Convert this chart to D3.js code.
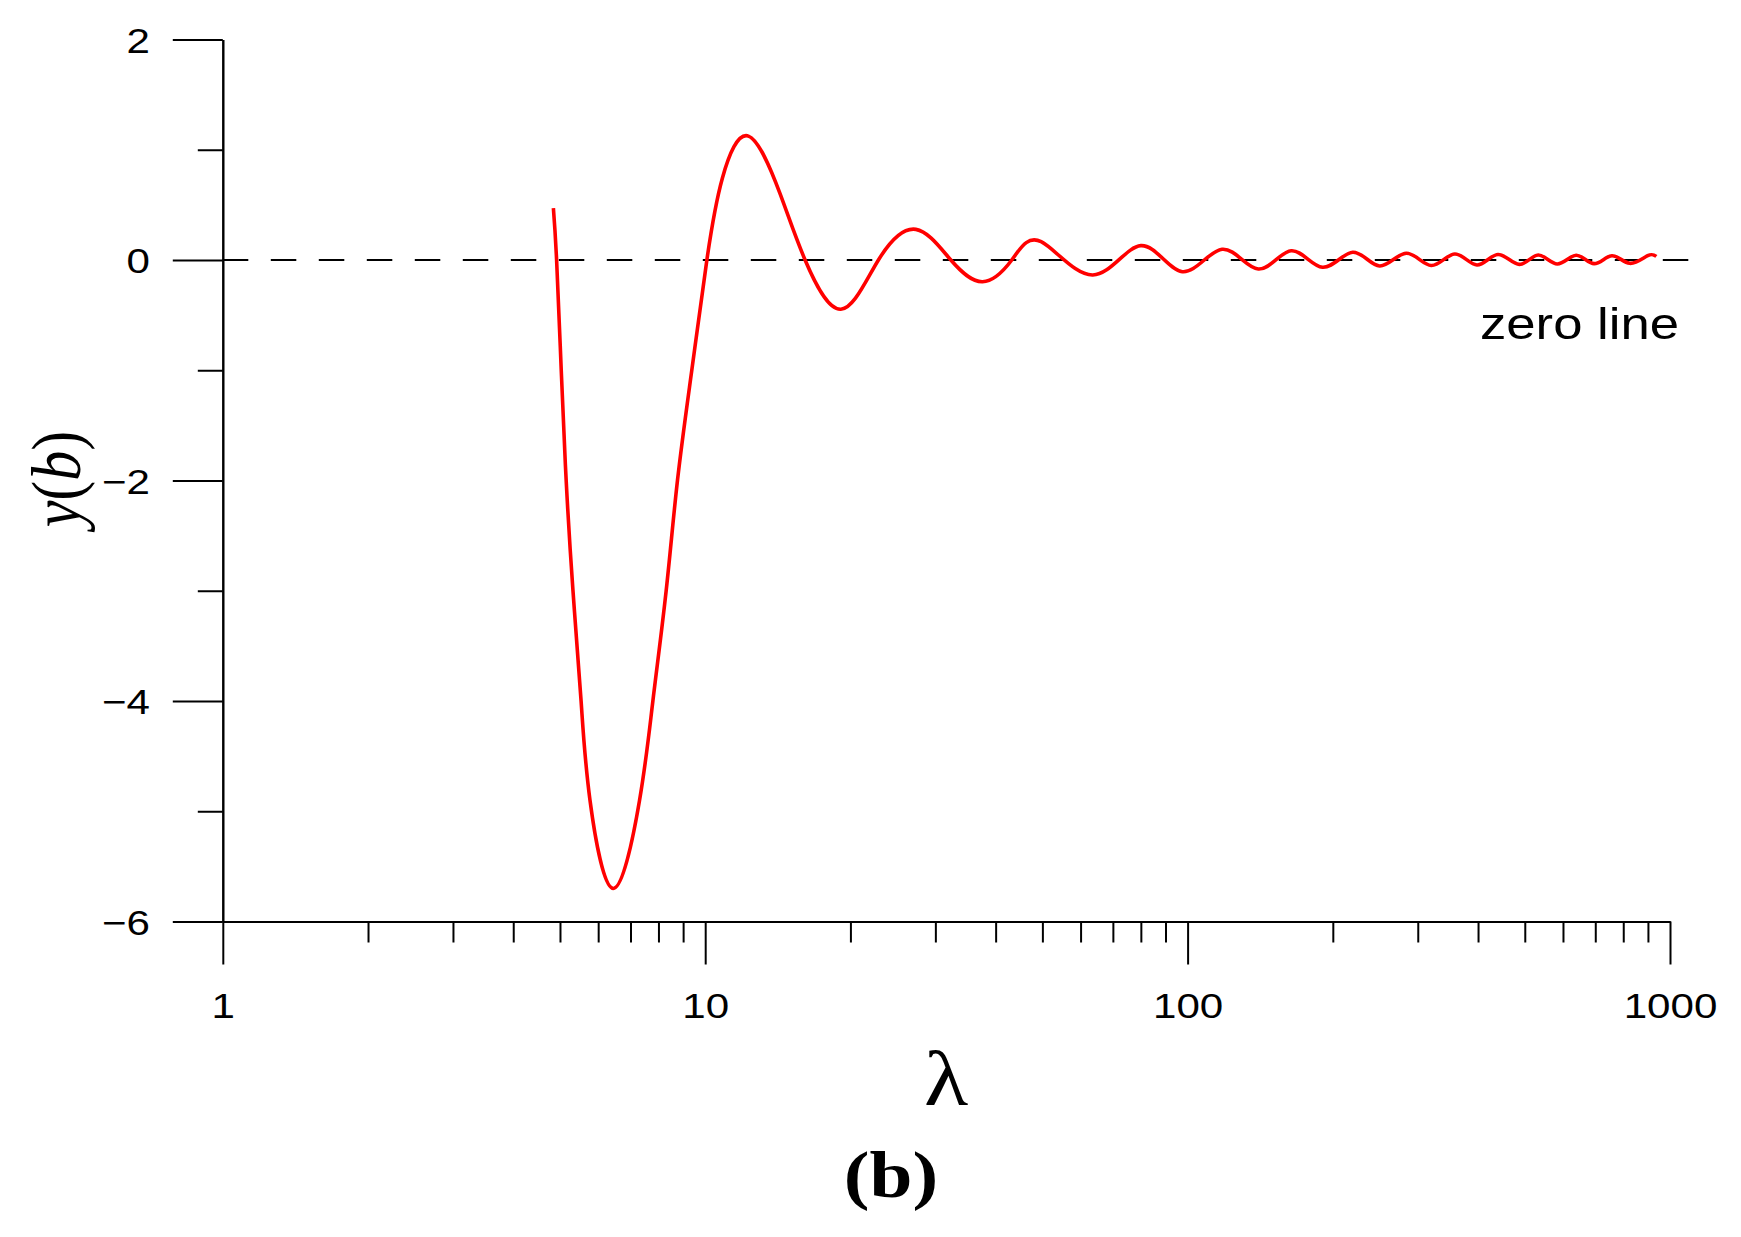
<!DOCTYPE html>
<html>
<head>
<meta charset="utf-8">
<script src="https://cdn.jsdelivr.net/npm/d3@7"></script>
<style>
  html, body { margin: 0; padding: 0; background: #fff; }
  svg { display: block; }
</style>
</head>
<body>
<svg id="chart"></svg>
<script>
// values
const lambda = [4.845, 4.92, 5.03, 5.15, 5.32, 5.53, 5.77, 6.45, 7.31, 7.79, 8.3, 8.76, 9.38,
  10.08, 10.85, 12.29, 14.3, 16.11, 19.11, 22.86, 27.33, 32.3, 37.57, 43.2, 49.7, 63.6, 80, 97.5,
  117.9, 140.1, 164, 190.4, 220, 250, 284, 320, 358, 398, 440, 487, 533, 584, 639, 696, 758, 825, 899, 937];
const yb = [0.47, 0, -1, -2, -3, -4, -4.9, -5.7, -4.9, -4, -3, -2, -1,
  0, 0.74, 1.124, 0.6, 0, -0.447, 0, 0.278, 0, -0.197, 0, 0.166, -0.136, 0.13, -0.106,
  0.097, -0.082, 0.084, -0.066, 0.07, -0.054, 0.061, -0.05, 0.054, -0.045, 0.05, -0.04, 0.045, -0.036, 0.043, -0.033, 0.039, -0.03, 0.039, 0.033];

const xMajor = [1, 10, 100, 1000];
const xMinor = [2, 3, 4, 5, 6, 7, 8, 9, 20, 30, 40, 50, 60, 70, 80, 90, 200, 300, 400, 500, 600, 700, 800, 900];
const yMajor = [-6, -4, -2, 0, 2];
const yMinor = [-5, -3, -1, 1];

const width = 1741;
const height = 1237;
const stretch = 1.17; // text in the picture is a bit wider than tall

const svg = d3.select("#chart").attr("width", width).attr("height", height);
svg.append("rect").attr("width", width).attr("height", height).attr("fill", "#fff");

const x = d3.scaleLog().domain([1, 1000]).range([222.8, 1670]);
const y = d3.scaleLinear().domain([-6, 2]).range([921.5, 39.5]);

const tickFont = "'Liberation Sans', Arial, sans-serif";

// y axis: major ticks with labels, then minor
const yAxisMajor = svg.append("g")
  .attr("transform", `translate(${x(1)},0)`)
  .call(d3.axisLeft(y).tickValues(yMajor).tickSize(50).tickSizeOuter(0).tickFormat(d3.format("d")));
svg.append("g")
  .attr("transform", `translate(${x(1)},0)`)
  .call(d3.axisLeft(y).tickValues(yMinor).tickSize(25).tickSizeOuter(0).tickFormat(""));

yAxisMajor.selectAll("text")
  .attr("x", -72.8 / stretch)
  .attr("dy", "0.36em")
  .attr("transform", `scale(${stretch},1)`)
  .attr("font-size", 36)
  .attr("font-family", tickFont)
  .attr("fill", "#000");

// x axis
const xAxisMajor = svg.append("g")
  .attr("transform", `translate(0,${y(-6)})`)
  .call(d3.axisBottom(x).tickValues(xMajor).tickSize(43).tickSizeOuter(0).tickFormat(d3.format("d")));
svg.append("g")
  .attr("transform", `translate(0,${y(-6)})`)
  .call(d3.axisBottom(x).tickValues(xMinor).tickSize(21).tickSizeOuter(0).tickFormat(""));

xAxisMajor.selectAll("text")
  .attr("y", 96.5)
  .attr("dy", "0")
  .attr("transform", `scale(${stretch},1)`)
  .attr("font-size", 36)
  .attr("font-family", tickFont)
  .attr("fill", "#000");

svg.selectAll(".domain, .tick line").attr("stroke", "#000").attr("stroke-width", 2);

// dashed zero line
svg.append("line")
  .attr("x1", x(1)).attr("x2", 1694)
  .attr("y1", y(0)).attr("y2", y(0))
  .attr("stroke", "#000")
  .attr("stroke-width", 2)
  .attr("stroke-dasharray", "25.5,22.5");

// the curve
const line = d3.line()
  .x((d, i) => x(lambda[i]))
  .y((d) => y(d))
  .curve(d3.curveNatural);

svg.append("path")
  .datum(yb)
  .attr("d", line)
  .attr("fill", "none")
  .attr("stroke", "#ff0000")
  .attr("stroke-width", 3.6)
  .attr("stroke-linejoin", "round");

// labels
svg.append("text")
  .attr("transform", `translate(1480,339) scale(${stretch},1)`)
  .attr("font-family", tickFont)
  .attr("font-size", 45)
  .attr("fill", "#000")
  .text("zero line");

const yTitle = svg.append("text")
  .attr("transform", `translate(80,479) scale(${stretch},1) rotate(-90)`)
  .attr("text-anchor", "middle")
  .attr("font-family", "'Liberation Serif', 'Times New Roman', serif")
  .attr("font-size", 60)
  .attr("fill", "#000");
yTitle.append("tspan").attr("font-style", "italic").text("y");
yTitle.append("tspan").text("(");
yTitle.append("tspan").attr("font-style", "italic").text("b");
yTitle.append("tspan").text(")");

svg.append("text")
  .attr("transform", `translate(946,1105) scale(${stretch},1)`)
  .attr("text-anchor", "middle")
  .attr("font-family", "'Liberation Serif', 'Times New Roman', serif")
  .attr("font-size", 78)
  .attr("fill", "#000")
  .text("λ");

svg.append("text")
  .attr("transform", `translate(891,1197) scale(${stretch},1)`)
  .attr("text-anchor", "middle")
  .attr("font-family", "'Liberation Serif', 'Times New Roman', serif")
  .attr("font-weight", "bold")
  .attr("font-size", 66)
  .attr("fill", "#000")
  .text("(b)");
</script>
</body>
</html>
